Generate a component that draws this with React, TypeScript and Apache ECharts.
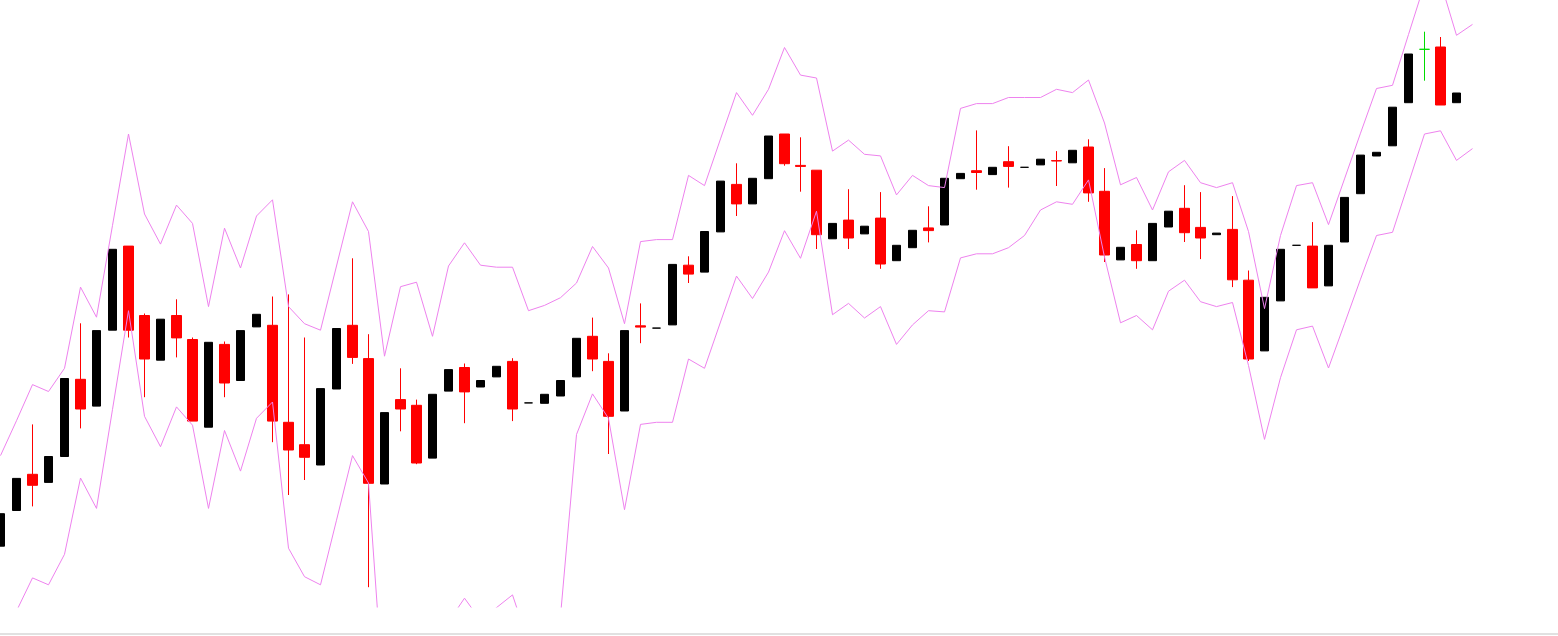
import React, { useEffect, useRef } from "react";
import * as echarts from "echarts";

// Bar labels (hidden axis): 92 bars plus empty right margin
const categories: string[] = [];
for (let i = 1; i <= 98; i++) categories.push("Bar " + i);

// Candle values (price units)
const opens = [
  60.8, 96.5, 132.7, 124.6, 150.5, 227.7, 200.9, 276.8, 360.9, 291.5,
  246.8, 291.5, 267.5, 179.8, 262.6, 226.5, 280.1, 281.7, 184.7, 162.3,
  142, 218, 281.7, 248.4, 123, 207.4, 201.7, 148.9, 215.9, 239.5,
  220, 230.1, 245.6, 204.1, 203.7, 211, 230.1, 270.7, 245.6, 196,
  281.2, 278.9, 282.1, 341.8, 334.9, 375.1, 422.6, 403.1, 428.3, 473,
  441.6, 436.8, 368.2, 386.9, 373.1, 388.9, 346.3, 359.3, 379.1, 382,
  428.3, 436.3, 432.4, 445.3, 439.7, 442.1, 446.4, 444.2, 460, 415.7,
  347.1, 362.5, 346.3, 380, 398.7, 379.6, 372.3, 377.6, 326.8, 256.1,
  306.1, 361.7, 360.9, 321.1, 365, 413.3, 451, 461.2, 504.3, 557.7,
  560, 504.3,
];
const closes = [
  93.3, 128.6, 121.7, 150.5, 228.5, 198, 276.4, 357.7, 276.8, 248,
  287.8, 269.1, 185.9, 264.7, 224, 276.4, 292.7, 185.9, 157, 149.7,
  218.4, 278.5, 249.6, 123.7, 194.4, 198, 144, 212.7, 237.4, 215.1,
  226.5, 240.7, 198, 204.1, 212.7, 226.5, 268.7, 248, 190.7, 276.4,
  279.9, 278.9, 342.6, 332.9, 375.5, 425.9, 403.1, 428.7, 471, 443.3,
  440.6, 372.3, 383.6, 369, 380.8, 343, 361.7, 376.7, 376.4, 428.7,
  433.6, 434.5, 439.7, 440.6, 439.7, 447.8, 446.0, 456.7, 414.1, 352,
  359.7, 346.3, 383.6, 395.8, 374.3, 369, 373.9, 327.2, 248, 309.7,
  357.7, 361.7, 319.1, 361.7, 409.6, 451.9, 454.7, 499.8, 553, 557.7,
  502, 514,
];
const lows = [
  60.8, 96.5, 100.6, 124.6, 150.5, 178.6, 200.9, 276.8, 269.5, 209.8,
  246.8, 249.6, 185.9, 179.8, 209.8, 226.5, 280.1, 164.8, 112, 127,
  142, 218, 243.1, 19.8, 123, 175.7, 142.8, 148.9, 215.9, 183.8,
  220, 230.1, 185.9, 204.1, 203.7, 211, 230.1, 235.8, 153, 196,
  263.8, 278.9, 282.1, 324, 334.9, 375.1, 391, 403.1, 428.3, 441.3,
  415.3, 358, 368.2, 358, 373.1, 338.2, 346.3, 359.3, 364.6, 382,
  428.3, 417.3, 432.4, 419.4, 439.7, 442.1, 421, 444.2, 405.2, 345,
  347.1, 338.2, 346.3, 380, 365, 347.9, 372.3, 319.9, 246, 256.1,
  306.1, 361.7, 319.1, 321.1, 365, 413.3, 451, 461.2, 504.3, 526.3,
  502, 504.3,
];
const highs = [
  93.3, 128.6, 182.6, 150.5, 228.5, 283.7, 276.4, 357.7, 360.9, 293.5,
  287.8, 307.7, 269.5, 264.7, 265.5, 276.4, 292.7, 310.5, 312.6, 269.5,
  218.4, 278.5, 348.7, 272.8, 194.4, 238.7, 207.4, 212.7, 237.4, 243.5,
  226.5, 240.7, 248.8, 204.1, 212.7, 226.5, 268.7, 289.4, 253.7, 276.4,
  303.6, 278.9, 342.6, 350.7, 375.5, 425.9, 443.7, 428.7, 471, 473,
  469.7, 436.8, 383.6, 417.8, 380.8, 414.9, 361.7, 376.7, 400.7, 428.7,
  433.6, 476.6, 439.7, 460.8, 439.7, 447.8, 455.9, 456.7, 467.7, 438.9,
  359.7, 376.7, 383.6, 395.8, 421.8, 414.9, 373.9, 410.9, 336.5, 309.7,
  357.7, 361.7, 384.9, 361.7, 409.6, 451.9, 454.7, 499.8, 553, 575.3,
  570, 514,
];
// Doji bar drawn in green
const greenDoji = [89];

// Upper and lower band lines (93 points)
const upperBand = [
  151.4, 186.3, 222.4, 215.5, 238.7, 319.9, 289.8, 381.6, 473, 393,
  362.9, 401.9, 383.6, 300.4, 378.8, 339, 391, 407.2, 300.4, 283.3,
  276.8, 341, 405.2, 375.5, 250.8, 320.3, 324.8, 270.7, 341, 364.2,
  341.8, 339.8, 339.8, 296.3, 301.6, 309.3, 324, 360.5, 339, 283.3,
  365.4, 367.4, 367.4, 431.6, 421.4, 468.1, 514.4, 491.7, 517.7, 559.5,
  531.9, 529, 455.9, 466.9, 452.7, 451.1, 412.1, 431.6, 421.4, 419.4,
  498.6, 503.4, 503.4, 509.5, 509.5, 509.5, 517.7, 514.4, 527, 484,
  422.2, 429.5, 397, 435.2, 446.6, 424.3, 419.4, 424.3, 375.5, 298.4,
  371.5, 421.4, 424.3, 382.4, 428.1, 473.8, 518.5, 521.7, 572.5, 623,
  625, 571.7, 582.6,
];
const lowerBand = [
  -40, -4, 29.1, 22.2, 52.7, 129, 98.6, 197.6, 296.3, 190.7,
  160.3, 200.1, 181.8, 98.6, 176.5, 135.9, 188.7, 205, 58.8, 30.3,
  22.2, 86.8, 151.4, 124, -103, -93, -83, -43, -14.7, 8.8,
  -13.2, -0.6, 12.1, -36, -33, -9, 172.5, 213.1, 188.7, 97.3,
  182.6, 184.7, 184.7, 248, 238.7, 285, 330.9, 308.5, 334.9, 376.3,
  348.7, 395.8, 292.3, 303.6, 289, 300.4, 262.6, 282.1, 296.3, 295.1,
  349.1, 353.2, 353.2, 359.3, 371.5, 397, 405.2, 402.7, 427.1, 350,
  284.2, 291.5, 277.2, 315.8, 326.8, 305.3, 300.4, 304.5, 241.5, 167.6,
  229.3, 277.2, 280.9, 239, 283.3, 327.8, 371.5, 374.7, 423.8, 473,
  476.2, 446.6, 458.4,
];

const BLACK = "#000000";
const RED = "#ff0000";
const GREEN = "#00dd00";
const VIOLET = "#ee82ee";

export default function App() {
  const ref = useRef<HTMLDivElement>(null);

  useEffect(() => {
    if (!ref.current) return;
    const chart = echarts.init(ref.current, undefined, { renderer: "svg" });

    const bullData: any[] = [];
    const bearData: any[] = [];
    for (let i = 0; i < opens.length; i++) {
      const v = [i, opens[i], closes[i], lows[i], highs[i]];
      if (greenDoji.indexOf(i) >= 0) {
        bearData.push({
          value: v,
          itemStyle: { color: GREEN, color0: GREEN, borderColor: GREEN, borderColor0: GREEN },
        });
      } else if (closes[i] < opens[i]) {
        bearData.push({ value: v });
      } else {
        bullData.push({ value: v });
      }
    }

    chart.setOption({
      animation: false,
      backgroundColor: "#ffffff",
      grid: {
        left: 0.5,
        top: 0,
        width: 16 * (categories.length - 1),
        height: 607,
        containLabel: false,
        outerBoundsMode: "none",
      },
      xAxis: {
        type: "category",
        data: categories,
        boundaryGap: false,
        show: false,
      },
      yAxis: {
        type: "value",
        min: 0,
        max: 607,
        scale: false,
        show: false,
        splitLine: { show: false },
      },
      graphic: [
        {
          type: "rect",
          shape: { x: 0, y: 633, width: 1558, height: 2 },
          style: { fill: "#e1e1e1" },
          silent: true,
        },
      ],
      series: [
        {
          type: "candlestick",
          name: "Bull",
          data: bullData,
          encode: { x: 0, y: [1, 2, 3, 4] },
          barWidth: 8,
          clip: false,
          itemStyle: {
            color: BLACK,
            color0: BLACK,
            borderColor: BLACK,
            borderColor0: BLACK,
            borderWidth: 1,
          },
          silent: true,
        },
        {
          type: "candlestick",
          name: "Bear",
          data: bearData,
          encode: { x: 0, y: [1, 2, 3, 4] },
          barWidth: 10,
          clip: false,
          itemStyle: {
            color: RED,
            color0: RED,
            borderColor: RED,
            borderColor0: RED,
            borderWidth: 1,
          },
          silent: true,
        },
        {
          type: "line",
          name: "Upper",
          data: upperBand,
          symbol: "none",
          lineStyle: { color: VIOLET, width: 1 },
          itemStyle: { color: VIOLET },
          silent: true,
        },
        {
          type: "line",
          name: "Lower",
          data: lowerBand,
          symbol: "none",
          lineStyle: { color: VIOLET, width: 1 },
          itemStyle: { color: VIOLET },
          silent: true,
        },
      ],
    });

    return () => {
      chart.dispose();
    };
  }, []);

  return (
    <div
      ref={ref}
      style={{ position: "fixed", left: 0, top: 0, width: 1558, height: 636, background: "#fff" }}
    />
  );
}
